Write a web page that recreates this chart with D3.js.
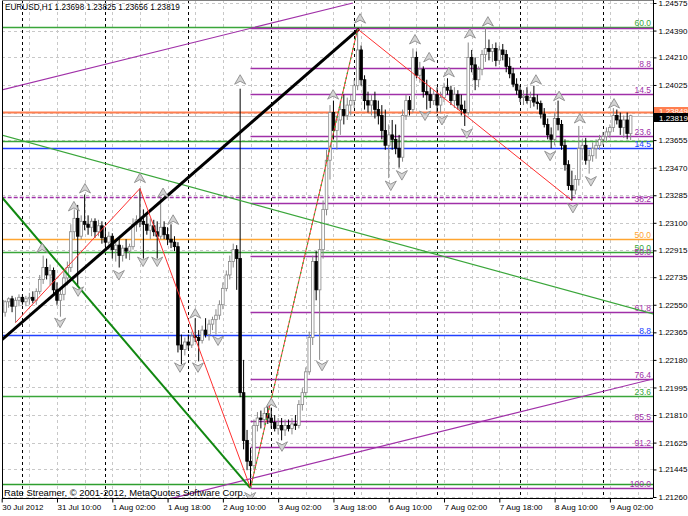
<!DOCTYPE html>
<html><head><meta charset="utf-8">
<script src="https://cdn.jsdelivr.net/npm/d3@7"></script>
<style>
body{margin:0;background:#fff}
svg{display:block}
text{font-family:"Liberation Sans",Arial,sans-serif;}
</style></head>
<body><svg id="c" width="688" height="516"></svg>
<script>
// ---------- DATA ----------
const title = "EURUSD,H1  1.23698 1.23825 1.23656 1.23819";
const footer = "Rate Streamer, \u00A9 2001-2012, MetaQuotes Software Corp.";
const yTicks = [1.24575,1.24390,1.24210,1.24025,1.23840,1.23655,1.23470,1.23285,1.23100,1.22915,1.22735,1.22550,1.22365,1.22180,1.21995,1.21810,1.21625,1.21445,1.21260];
const xLabels = ["30 Jul 2012","31 Jul 10:00","1 Aug 02:00","1 Aug 18:00","2 Aug 10:00","3 Aug 02:00","3 Aug 18:00","6 Aug 10:00","7 Aug 02:00","7 Aug 18:00","8 Aug 10:00","9 Aug 02:00"];
const xLabelBars = [0,16,32,48,64,80,96,112,128,144,160,176];
const daySeparators = [6,30,54,78,102,126,150,174];

const open = [1.2258,1.2250,1.2257,1.2259,1.2254,1.2258,1.2260,1.2257,1.2259,1.2260,
1.2258,1.2264,1.2272,1.2280,1.2275,1.2278,1.2265,1.2258,1.2262,1.2273,
1.2280,1.2304,1.2313,1.2301,1.2311,1.2309,1.2307,1.2311,1.2304,1.2308,
1.2300,1.2297,1.2301,1.2292,1.2295,1.2288,1.2293,1.2291,1.2294,1.2309,
1.2312,1.2311,1.2309,1.2305,1.2308,1.2304,1.2301,1.2307,1.2302,1.2299,
1.2297,1.2294,1.2228,1.2225,1.2230,1.2228,1.2234,1.2233,1.2231,1.2238,
1.2235,1.2242,1.2245,1.2248,1.2255,1.2266,1.2275,1.2284,1.2292,1.2286,
1.2196,1.2164,1.2150,1.2147,1.2174,1.2179,1.2178,1.2182,1.2179,1.2176,
1.2172,1.2174,1.2171,1.2174,1.2172,1.2175,1.2174,1.2188,1.2196,1.2210,
1.2233,1.2284,1.2265,1.2292,1.2319,1.2352,1.2384,1.2372,1.2379,1.2386,
1.2382,1.2389,1.2392,1.2402,1.2426,1.2406,1.2392,1.2389,1.2392,1.2386,
1.2382,1.2372,1.2362,1.2369,1.2366,1.2360,1.2354,1.2382,1.2392,1.2386,
1.2421,1.2409,1.2413,1.2398,1.2396,1.2392,1.2396,1.2389,1.2394,1.2401,
1.2399,1.2392,1.2396,1.2389,1.2386,1.2384,1.2421,1.2416,1.2406,1.2413,
1.2423,1.2427,1.2425,1.2427,1.2419,1.2426,1.2423,1.2415,1.2410,1.2403,
1.2399,1.2394,1.2395,1.2392,1.2394,1.2391,1.2390,1.2383,1.2376,1.2369,
1.2366,1.2380,1.2376,1.2362,1.2349,1.2335,1.2332,1.2339,1.2360,1.2362,
1.2352,1.2355,1.2360,1.2362,1.2366,1.2368,1.2371,1.2374,1.2382,1.2379,
1.2374,1.2379,1.23698];
const high = [1.2261,1.2258,1.2260,1.2261,1.2260,1.2262,1.2262,1.2261,1.2263,1.2264,
1.2266,1.2275,1.2288,1.2286,1.2282,1.2280,1.2270,1.2266,1.2277,1.2284,
1.2309,1.2319,1.2322,1.2315,1.2329,1.2315,1.2313,1.2313,1.2312,1.2311,
1.2307,1.2304,1.2303,1.2299,1.2300,1.2295,1.2299,1.2296,1.2313,1.2315,
1.2333,1.2319,1.2315,1.2313,1.2312,1.2311,1.2327,1.2311,1.2307,1.2309,
1.2301,1.2297,1.2235,1.2233,1.2235,1.2237,1.2246,1.2238,1.2241,1.2246,
1.2245,1.2247,1.2252,1.2258,1.2270,1.2278,1.2288,1.2296,1.2295,1.2400,
1.2218,1.2171,1.2159,1.2178,1.2183,1.2184,1.2186,1.2188,1.2186,1.2181,
1.2179,1.2179,1.2178,1.2178,1.2179,1.2181,1.2191,1.2199,1.2213,1.2237,
1.2288,1.2291,1.2299,1.2325,1.2359,1.2389,1.2392,1.2382,1.2392,1.2396,
1.2394,1.2396,1.2406,1.2440,1.2429,1.2409,1.2398,1.2396,1.2398,1.2392,
1.2389,1.2386,1.2376,1.2379,1.2376,1.2369,1.2386,1.2396,1.2395,1.2427,
1.2425,1.2418,1.2415,1.2406,1.2401,1.2399,1.2401,1.2398,1.2404,1.2407,
1.2402,1.2401,1.2399,1.2396,1.2392,1.2431,1.2426,1.2421,1.2415,1.2426,
1.2441,1.2433,1.2430,1.2431,1.2429,1.2430,1.2426,1.2421,1.2414,1.2407,
1.2402,1.2399,1.2401,1.2398,1.2402,1.2396,1.2392,1.2387,1.2380,1.2374,
1.2384,1.2392,1.2379,1.2366,1.2352,1.2345,1.2342,1.2375,1.2366,1.2367,
1.2359,1.2364,1.2366,1.2369,1.2371,1.2374,1.2376,1.2387,1.2386,1.2384,
1.2382,1.2384,1.23825];
const low = [1.2246,1.2247,1.2253,1.2250,1.2243,1.2254,1.2255,1.2254,1.2255,1.2256,
1.2255,1.2262,1.2269,1.2272,1.2268,1.2262,1.2255,1.2247,1.2258,1.2268,
1.2277,1.2299,1.2267,1.2299,1.2305,1.2302,1.2301,1.2300,1.2301,1.2296,
1.2294,1.2292,1.2286,1.2284,1.2280,1.2284,1.2286,1.2285,1.2292,1.2304,
1.2307,1.2286,1.2302,1.2299,1.2301,1.2286,1.2299,1.2299,1.2295,1.2293,
1.2291,1.2223,1.2215,1.2221,1.2225,1.2226,1.2230,1.2217,1.2229,1.2233,
1.2231,1.2238,1.2235,1.2245,1.2252,1.2264,1.2272,1.2280,1.2265,1.2193,
1.2158,1.2144,1.2132,1.2144,1.2170,1.2172,1.2174,1.2175,1.2172,1.2170,
1.2168,1.2164,1.2167,1.2170,1.2168,1.2171,1.2172,1.2184,1.2194,1.2208,
1.2228,1.2258,1.2218,1.2286,1.2315,1.2339,1.2366,1.2359,1.2369,1.2376,
1.2379,1.2382,1.2387,1.2399,1.2402,1.2386,1.2384,1.2382,1.2380,1.2376,
1.2366,1.2359,1.2340,1.2359,1.2356,1.2347,1.2351,1.2379,1.2382,1.2384,
1.2407,1.2404,1.2394,1.2386,1.2387,1.2389,1.2384,1.2384,1.2391,1.2396,
1.2389,1.2387,1.2386,1.2382,1.2375,1.2382,1.2411,1.2399,1.2401,1.2409,
1.2418,1.2419,1.2418,1.2415,1.2416,1.2419,1.2411,1.2407,1.2401,1.2396,
1.2391,1.2389,1.2390,1.2387,1.2388,1.2386,1.2380,1.2374,1.2366,1.2360,
1.2362,1.2372,1.2359,1.2345,1.2332,1.2325,1.2329,1.2335,1.2352,1.2349,
1.2343,1.2351,1.2353,1.2359,1.2362,1.2364,1.2367,1.2371,1.2376,1.2369,
1.2367,1.2366,1.23656];
const close = [1.2250,1.2257,1.2259,1.2254,1.2258,1.2260,1.2257,1.2259,1.2260,1.2258,
1.2264,1.2272,1.2280,1.2275,1.2278,1.2265,1.2258,1.2262,1.2273,1.2280,
1.2304,1.2313,1.2301,1.2311,1.2309,1.2307,1.2311,1.2304,1.2308,1.2300,
1.2297,1.2301,1.2292,1.2295,1.2288,1.2293,1.2291,1.2294,1.2309,1.2312,
1.2311,1.2309,1.2305,1.2308,1.2304,1.2301,1.2307,1.2302,1.2299,1.2297,
1.2294,1.2228,1.2225,1.2230,1.2228,1.2234,1.2233,1.2231,1.2238,1.2235,
1.2242,1.2245,1.2248,1.2255,1.2266,1.2275,1.2284,1.2292,1.2286,1.2196,
1.2164,1.2150,1.2147,1.2174,1.2179,1.2178,1.2182,1.2179,1.2176,1.2172,
1.2174,1.2171,1.2174,1.2172,1.2175,1.2174,1.2188,1.2196,1.2210,1.2233,
1.2284,1.2265,1.2292,1.2319,1.2352,1.2384,1.2372,1.2379,1.2386,1.2382,
1.2389,1.2392,1.2402,1.2426,1.2406,1.2392,1.2389,1.2392,1.2386,1.2382,
1.2372,1.2362,1.2369,1.2366,1.2360,1.2354,1.2382,1.2392,1.2386,1.2421,
1.2409,1.2413,1.2398,1.2396,1.2392,1.2396,1.2389,1.2394,1.2401,1.2399,
1.2392,1.2396,1.2389,1.2386,1.2384,1.2421,1.2416,1.2406,1.2413,1.2423,
1.2427,1.2425,1.2427,1.2419,1.2426,1.2423,1.2415,1.2410,1.2403,1.2399,
1.2394,1.2395,1.2392,1.2394,1.2391,1.2390,1.2383,1.2376,1.2369,1.2366,
1.2380,1.2376,1.2362,1.2349,1.2335,1.2332,1.2339,1.2360,1.2362,1.2352,
1.2355,1.2360,1.2362,1.2366,1.2368,1.2371,1.2374,1.2382,1.2379,1.2374,
1.2379,1.2370,1.23819];

// horizontal objects: price, colour, first bar, label
const hPrice = [1.24413,1.24407,1.24139,1.23964,1.23844,1.23819,1.23682,1.23649,1.23602,1.23273,1.23233,1.22991,1.22904,1.22877,1.22501,1.22347,1.22052,1.21938,1.21770,1.21596,1.21347,1.21320];
const hColor = ["#3aa63a","#a030a8","#a030a8","#a030a8","#ff7f50","#c0c0c0","#a030a8","#3aa63a","#2040ff","#a030a8","#a030a8","#ffa530","#3aa63a","#a030a8","#a030a8","#2040ff","#a030a8","#3aa63a","#a030a8","#a030a8","#2e9e2e","#a030a8"];
const hStart = [0,72,72,72,0,0,72,0,0,0,72,0,0,72,72,0,72,0,72,72,0,72];
const hLabel = ["60.0","","8.8","14.5","","","23.6","","14.5","","38.2","50.0","50.0","50.0","61.8","8.8","76.4","23.6","85.5","91.2","","100.0"];
// trend lines: [bar1, price1] -> [bar2, price2]
const tBar1 = [0,47.3,0,0,0], tP1 = [1.23991,1.21240,1.23689,1.23273,1.22314];
const tBar2 = [101.6,188.5,188.5,71.9,103.4], tP2 = [1.24575,1.22052,1.22488,1.21321,1.24401];
const tColor = ["#a030a8","#a030a8","#3aa63a","#118811","#000000"];
const tWidth = [1.2,1.2,1.2,2,3];
const zzBar = [4,40,72,103,165];
const zzPrice = [1.2243,1.2333,1.2132,1.2440,1.2325];
const upBar = [11.7,20.9,24.1,40,46.7,49.6,56,69,78,95.9,103.7,119.6,123.7,129.4,135.5,140.7,154.6,161.3,167.3,177.2];
const upPrice = [1.2293,1.2321,1.2333,1.2340,1.2330,1.2312,1.2249,1.2406,1.2189,1.2396,1.2447,1.2433,1.2421,1.2411,1.2437,1.2445,1.2406,1.2395,1.2380,1.2390];
const dnBar = [16.9,22.1,33.9,40.9,45,51.6,56.8,62.6,71.9,81.1,92.7,112.6,115.8,122.5,127.4,134.6,158.7,165.3,170.5];
const dnPrice = [1.2243,1.2264,1.2275,1.2284,1.2284,1.2213,1.2213,1.2231,1.2126,1.2160,1.2214,1.2335,1.2342,1.2382,1.2379,1.2370,1.2355,1.2320,1.2338];

// ---------- CHART ----------
const svg = d3.select("#c");
const L = 2, R = 653, T = 0, B = 498;
const x = d3.scaleLinear().domain([0,188.5]).range([1.7,653.1]);
const y = d3.scaleLinear().domain([1.21260,1.24575]).range([497,3]);
svg.append("defs").append("clipPath").attr("id","clip").append("rect").attr("x",L).attr("y",T).attr("width",R-L).attr("height",B-T);
const g = svg.append("g").attr("clip-path","url(#clip)");

// grid
g.selectAll(".hg").data(yTicks).join("line").attr("x1",L).attr("x2",R).attr("y1",d=>Math.round(y(d))+0.5).attr("y2",d=>Math.round(y(d))+0.5).attr("stroke","#c8c8c8").attr("stroke-dasharray","3,3");
const vgrid = d3.range(8,189,8);
g.selectAll(".vg").data(vgrid).join("line").attr("x1",d=>Math.round(x(d))+0.5).attr("x2",d=>Math.round(x(d))+0.5).attr("y1",T).attr("y2",B).attr("stroke","#c8c8c8").attr("stroke-dasharray","3,3");
g.selectAll(".ds").data(daySeparators).join("line").attr("x1",d=>Math.round(x(d))+0.5).attr("x2",d=>Math.round(x(d))+0.5).attr("y1",T).attr("y2",B).attr("stroke","#000").attr("stroke-dasharray","3,3");

// horizontal objects
hPrice.forEach((p,i)=>{
  const yy = Math.round(y(p))+0.5;
  g.append("line").attr("x1",x(hStart[i])).attr("x2",R).attr("y1",yy).attr("y2",yy)
   .attr("stroke",hColor[i]).attr("stroke-width",i===4?2:(i===5?1:1.5))
   .attr("stroke-dasharray",i===9?"4,2":null);
  if(hLabel[i]) g.append("text").attr("x",R-2).attr("y",yy-2).attr("text-anchor","end").attr("font-size",8.5).attr("fill",hColor[i]).text(hLabel[i]);
});

// candles
const bw = 2.6;
close.forEach((c,i)=>{
  const o = open[i], up = c>=o, cx = x(i);
  const col = up?"#888":"#000";
  g.append("line").attr("x1",cx).attr("x2",cx).attr("y1",y(high[i])).attr("y2",y(low[i])).attr("stroke",col);
  g.append("rect").attr("x",cx-bw/2).attr("y",y(Math.max(o,c))).attr("width",bw).attr("height",Math.max(0.8,Math.abs(y(o)-y(c))))
   .attr("fill",up?"#fff":"#000").attr("stroke",col).attr("stroke-width",0.8);
});

// trend lines
tBar1.forEach((b,i)=>{
  g.append("line").attr("x1",x(b)).attr("y1",y(tP1[i])).attr("x2",x(tBar2[i])).attr("y2",y(tP2[i]))
   .attr("stroke",tColor[i]).attr("stroke-width",tWidth[i]);
});
// zigzag
const zz = zzBar.map((b,i)=>[x(b),y(zzPrice[i])]);
g.append("path").attr("d",d3.line()(zz)).attr("fill","none").attr("stroke","#ff3030").attr("stroke-width",1);
g.append("line").attr("x1",zz[2][0]).attr("y1",zz[2][1]).attr("x2",zz[3][0]).attr("y2",zz[3][1]).attr("stroke","#30b030").attr("stroke-dasharray","2,3").attr("stroke-width",1.2);

// fractal arrows
const upPath = "M0,-5 L5.5,4.5 L0,1.5 L-5.5,4.5 Z", dnPath = "M0,5 L5.5,-4.5 L0,-1.5 L-5.5,-4.5 Z";
upBar.forEach((b,i)=>g.append("path").attr("d",upPath).attr("transform",`translate(${x(b)},${y(upPrice[i])})`).attr("fill","#d4d4d4").attr("stroke","#8c8c8c").attr("stroke-width",0.9).attr("stroke-linejoin","round"));
dnBar.forEach((b,i)=>g.append("path").attr("d",dnPath).attr("transform",`translate(${x(b)},${y(dnPrice[i])})`).attr("fill","#d4d4d4").attr("stroke","#8c8c8c").attr("stroke-width",0.9).attr("stroke-linejoin","round"));

// frame
svg.append("line").attr("x1",L+0.5).attr("x2",L+0.5).attr("y1",T).attr("y2",B).attr("stroke","#000");
svg.append("line").attr("x1",L).attr("x2",R).attr("y1",0.5).attr("y2",0.5).attr("stroke","#808080");

// axes
const ya = svg.append("g").attr("transform",`translate(${R+0.5},0)`)
  .call(d3.axisRight(y).tickValues(yTicks).tickSize(3).tickFormat(d3.format(".5f")));
ya.select(".domain").attr("d",`M0,${T}V${B}`);
ya.selectAll("text").attr("font-size",8).attr("x",5).attr("font-family","Liberation Sans, Arial");
const xa = svg.append("g").attr("transform",`translate(0,${B+0.5})`)
  .call(d3.axisBottom(x).tickValues(xLabelBars).tickSize(4).tickFormat((d,i)=>xLabels[i]));
xa.select(".domain").attr("d",`M${L},0H${R}`);
xa.selectAll("text").attr("font-size",8).attr("text-anchor","start").attr("dx",0).attr("y",6).attr("font-family","Liberation Sans, Arial");

// price boxes
svg.append("rect").attr("x",654).attr("y",107).attr("width",34).attr("height",7).attr("fill","#ff7f50");
svg.append("text").attr("x",659).attr("y",113.5).attr("font-size",8).attr("fill","#fff").text("1.23849");
svg.append("rect").attr("x",654).attr("y",113).attr("width",34).attr("height",9).attr("fill","#000");
svg.append("text").attr("x",659).attr("y",120.5).attr("font-size",8).attr("fill","#fff").text("1.23819");

// texts
svg.append("text").attr("x",5).attr("y",10).attr("font-size",8.2).attr("fill","#000").text(title);
svg.append("text").attr("x",4).attr("y",496).attr("font-size",9.4).attr("fill","#000").text(footer);
</script></body></html>
